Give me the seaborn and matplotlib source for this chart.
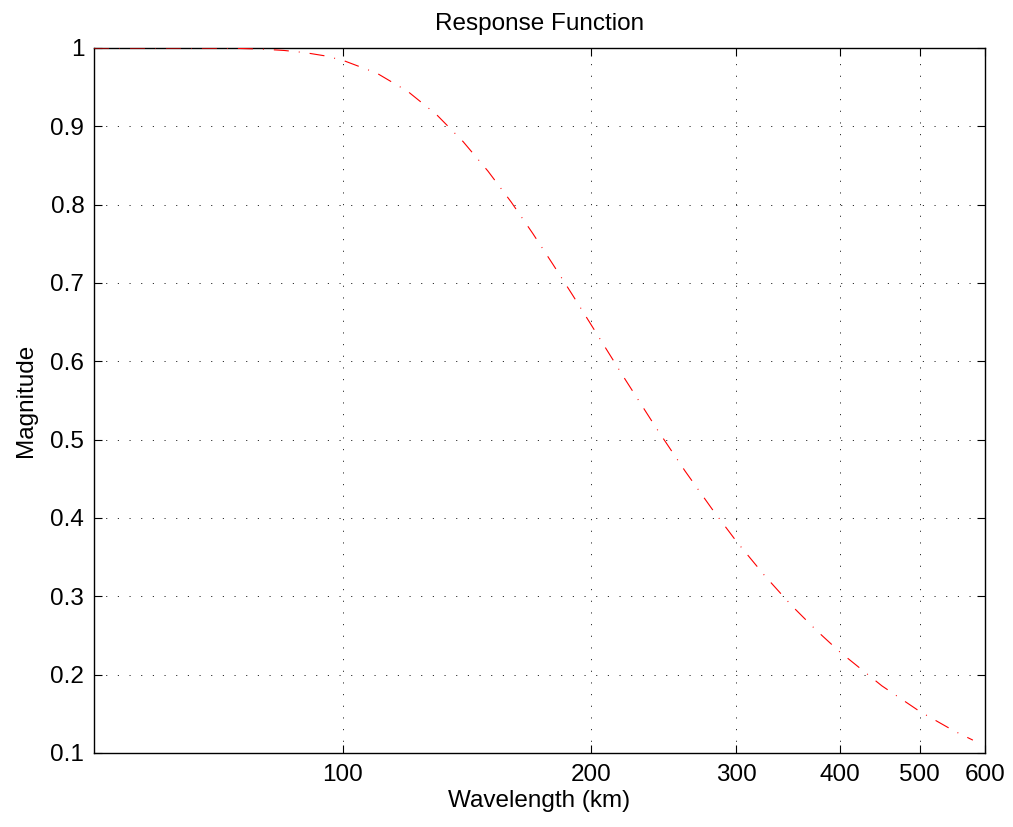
import matplotlib
matplotlib.use("Agg")
import matplotlib.pyplot as plt
from matplotlib.ticker import FixedLocator, FixedFormatter, NullLocator
import seaborn as sns
import pandas as pd

# Filter response sampled along wavelength
wavelength_km = [50, 55, 60, 65, 70, 75, 80, 85, 90, 95, 100, 110, 120, 130, 140,
                 150, 160, 170, 180, 190, 200, 220, 240, 260, 280, 300, 325, 350,
                 375, 400, 450, 500, 550, 580]
magnitude = [1.000, 1.000, 1.000, 0.99995, 0.9998, 0.9994, 0.9985, 0.9968, 0.9941,
             0.9901, 0.9844, 0.9679, 0.9444, 0.9148, 0.8803, 0.8428, 0.8035, 0.7631,
             0.7230, 0.6843, 0.6467, 0.5767, 0.5144, 0.4597, 0.4120, 0.3700, 0.3256,
             0.2880, 0.2564, 0.2292, 0.1857, 0.1531, 0.1283, 0.1164]

x_ticks = [100, 200, 300, 400, 500, 600]
x_tick_labels = ["100", "200", "300", "400", "500", "600"]
y_ticks = [0.1, 0.2, 0.3, 0.4, 0.5, 0.6, 0.7, 0.8, 0.9, 1.0]
y_tick_labels = ["0.1", "0.2", "0.3", "0.4", "0.5", "0.6", "0.7", "0.8", "0.9", "1"]

FS = 17.5

sns.set_theme(style="white")
plt.rcParams["font.family"] = ["Liberation Sans", "DejaVu Sans"]
plt.rcParams["lines.scale_dashes"] = False

df = pd.DataFrame({"Wavelength": wavelength_km, "Magnitude": magnitude})

fig = plt.figure(figsize=(10.13, 8.27), dpi=100)
ax = fig.add_axes([0.0928, 0.0895, 0.8796, 0.8525])

sns.lineplot(data=df, x="Wavelength", y="Magnitude", ax=ax, color="#ff0000",
             linewidth=0.8, linestyle=(0, (10.8, 7.2, 0.7, 7.2)), zorder=3)

ax.set_xscale("log")
ax.set_xlim(50, 600)
ax.set_ylim(0.1, 1.0)

ax.xaxis.set_major_locator(FixedLocator(x_ticks))
ax.xaxis.set_major_formatter(FixedFormatter(x_tick_labels))
ax.xaxis.set_minor_locator(NullLocator())
ax.yaxis.set_major_locator(FixedLocator(y_ticks))
ax.yaxis.set_major_formatter(FixedFormatter(y_tick_labels))

ax.grid(True, which="major", color="black", linewidth=0.6,
        linestyle=(0, (0.8, 7.6)))

for side in ["left", "right", "top", "bottom"]:
    ax.spines[side].set_visible(True)
    ax.spines[side].set_color("black")
    ax.spines[side].set_linewidth(1.0)

ax.tick_params(axis="both", which="major", direction="in", length=6, width=0.8,
               color="black", labelsize=FS, labelcolor="black",
               top=True, right=True, bottom=True, left=True)
ax.tick_params(axis="x", pad=8)
ax.tick_params(axis="y", pad=7)

ax.set_xlabel("Wavelength (km)", fontsize=FS, color="black", labelpad=3)
ax.set_ylabel("Magnitude", fontsize=FS, color="black", labelpad=10)
ax.set_title("Response Function", fontsize=FS, color="black", pad=13)

fig.savefig("out.png", dpi=100, facecolor="white")
